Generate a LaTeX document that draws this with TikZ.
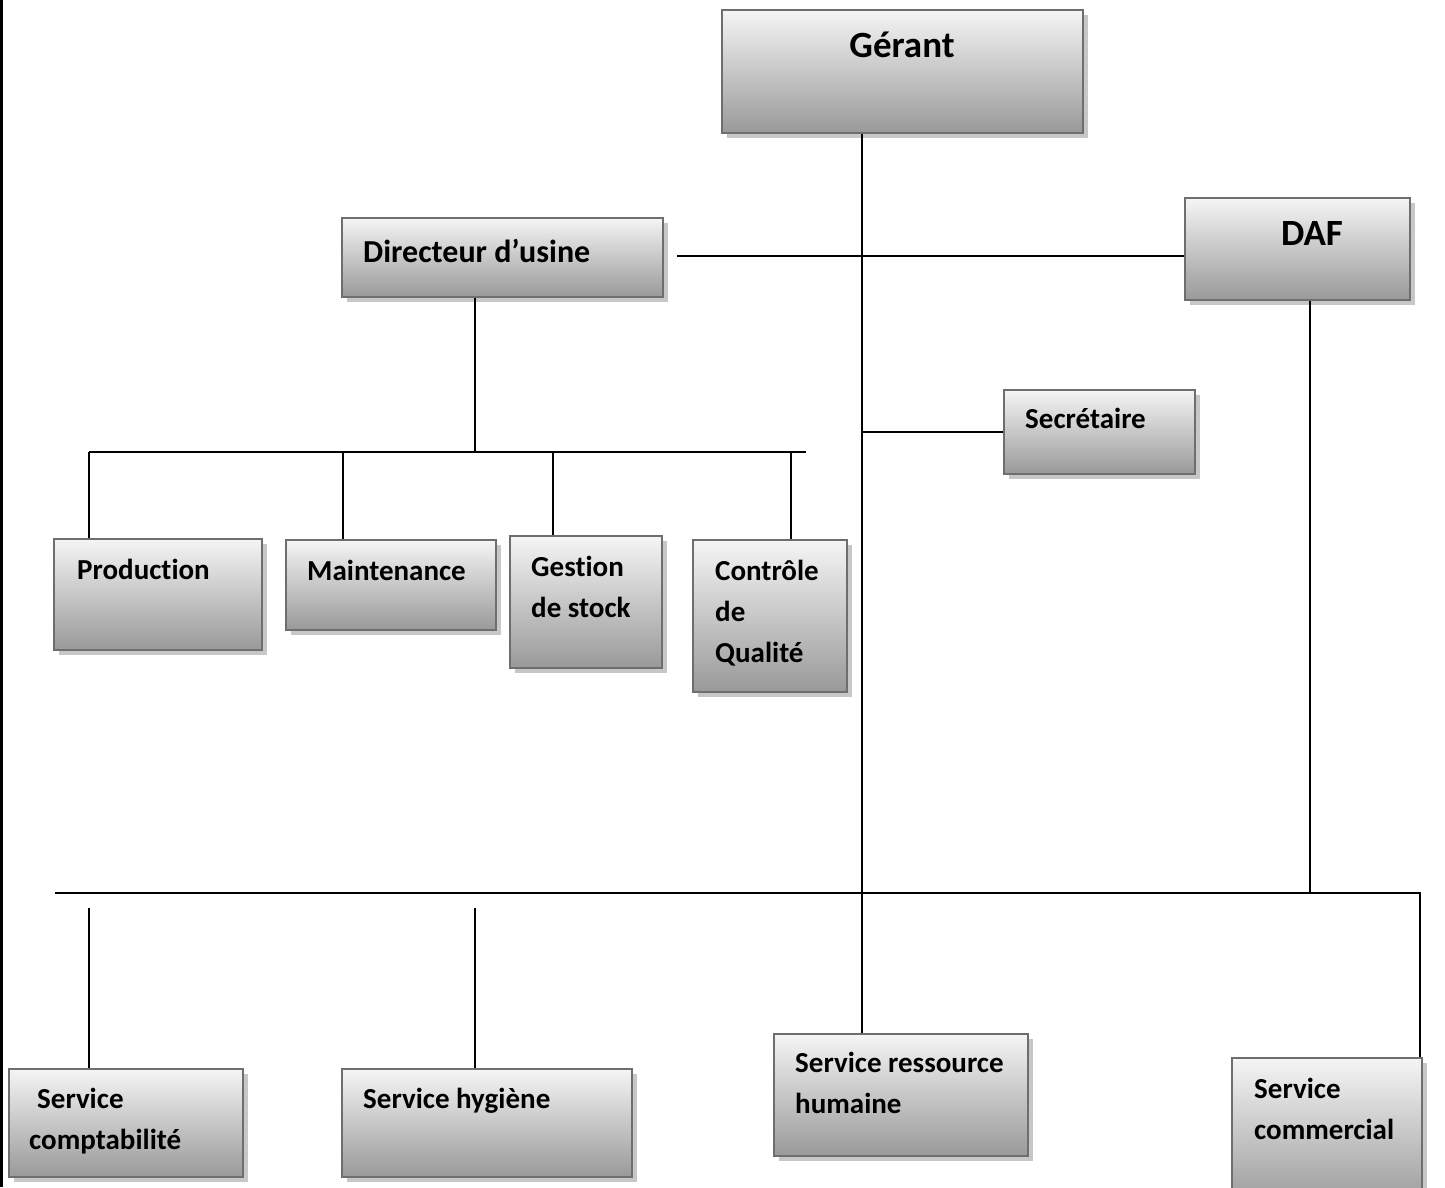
\documentclass[tikz,border=0pt]{standalone}
\usepackage{fontspec}
\setmainfont{Carlito}[Ligatures=NoCommon]
\usetikzlibrary{shadows}
\definecolor{boxgray}{HTML}{6E6E6E}
\tikzset{
  x=1pt, y=-1pt,
  orgbox/.style={draw=boxgray, line width=2.4pt, rectangle, inner sep=0pt,
    top color=white!96!black, bottom color=black!40,
    drop shadow={shadow xshift=5pt, shadow yshift=-5pt, fill=black!22, opacity=1}},
  lbl/.style={anchor=base west, inner sep=0pt, align=left,
    font=\fontsize{29}{41}\selectfont\bfseries},
  biglbl/.style={anchor=base, inner sep=0pt,
    font=\fontsize{37}{41}\selectfont\bfseries},
  conn/.style={line width=2pt, black}
}
\begin{document}
\begin{tikzpicture}
\clip (0,0) rectangle (1445,1187);
\fill[white] (0,0) rectangle (1445,1187);
% left border
\draw[line width=3pt] (1,0) -- (1,1187);

% boxes
\node[orgbox, minimum width=361, minimum height=123] (gerant) at (902.5,71.5) {};
\node[orgbox, minimum width=321, minimum height=79] (dir) at (502.5,257.5) {};
\node[orgbox, minimum width=225, minimum height=102] (daf) at (1297.5,249) {};
\node[orgbox, minimum width=191, minimum height=84] (secr) at (1099.5,432) {};
\node[orgbox, minimum width=208, minimum height=111] (prod) at (158,594.5) {};
\node[orgbox, minimum width=210, minimum height=90] (maint) at (391,585) {};
\node[orgbox, minimum width=152, minimum height=132] (stock) at (586,602) {};
\node[orgbox, minimum width=154, minimum height=152] (qual) at (770,616) {};
\node[orgbox, minimum width=234, minimum height=108] (compta) at (126,1123) {};
\node[orgbox, minimum width=290, minimum height=108] (hyg) at (487,1123) {};
\node[orgbox, minimum width=254, minimum height=122] (rh) at (901,1095) {};
\node[orgbox, minimum width=190, minimum height=150] (comm) at (1327,1133) {};

% labels (base = baseline of the last line)
\node[biglbl] (tgerant) at (902,57) {Gérant};
\node[biglbl] (tdaf) at (1312,245) {DAF};
\node[lbl, font=\fontsize{32}{41}\selectfont\bfseries] (tdir) at (363,262) {Directeur d’usine};
\node[lbl] (tsecr) at (1025,428) {Secrétaire};
\node[lbl] (tprod) at (77,579) {Production};
\node[lbl] (tmaint) at (307,580) {Maintenance};
\node[lbl] (tstock) at (531,617) {Gestion\\de stock};
\node[lbl] (tqual) at (715,662) {Contrôle\\de\\Qualité};
\node[lbl] (tcompta) at (29,1149) {\hspace*{8pt}Service\\comptabilité};
\node[lbl] (thyg) at (363,1108) {Service hygiène};
\node[lbl] (trh) at (795,1113) {Service ressource\\humaine};
\node[lbl] (tcomm) at (1254,1139) {Service\\commercial};

% helper coordinates
\coordinate (trunk) at (862,0);
\coordinate (hl) at (677,256);
\coordinate (dv) at (475,452);
\coordinate (bl) at (89,452);
\coordinate (br) at (806,452);
\coordinate (vm) at (343,452);
\coordinate (vs) at (553,452);
\coordinate (vq) at (791,452);
\coordinate (dafv) at (1310,893);
\coordinate (hb1) at (55,893);
\coordinate (hb2) at (1420,893);
\coordinate (vc) at (89,908);
\coordinate (vh) at (475,908);

% connectors
\draw[conn] (gerant.south -| trunk) -- (rh.north -| trunk);
\draw[conn] (hl) -- (hl -| daf.west);
\draw[conn] (dir.south -| dv) -- (dv);
\draw[conn] (bl) -- (br);
\draw[conn] (bl) -- (bl |- prod.north);
\draw[conn] (vm) -- (vm |- maint.north);
\draw[conn] (vs) -- (vs |- stock.north);
\draw[conn] (vq) -- (vq |- qual.north);
\draw[conn] (secr.west -| trunk) -- (secr.west);
\draw[conn] (daf.south -| dafv) -- (dafv);
\draw[conn] (hb1) -- (hb2) -- (hb2 |- comm.north);
\draw[conn] (vc) -- (vc |- compta.north);
\draw[conn] (vh) -- (vh |- hyg.north);
\end{tikzpicture}
\end{document}
